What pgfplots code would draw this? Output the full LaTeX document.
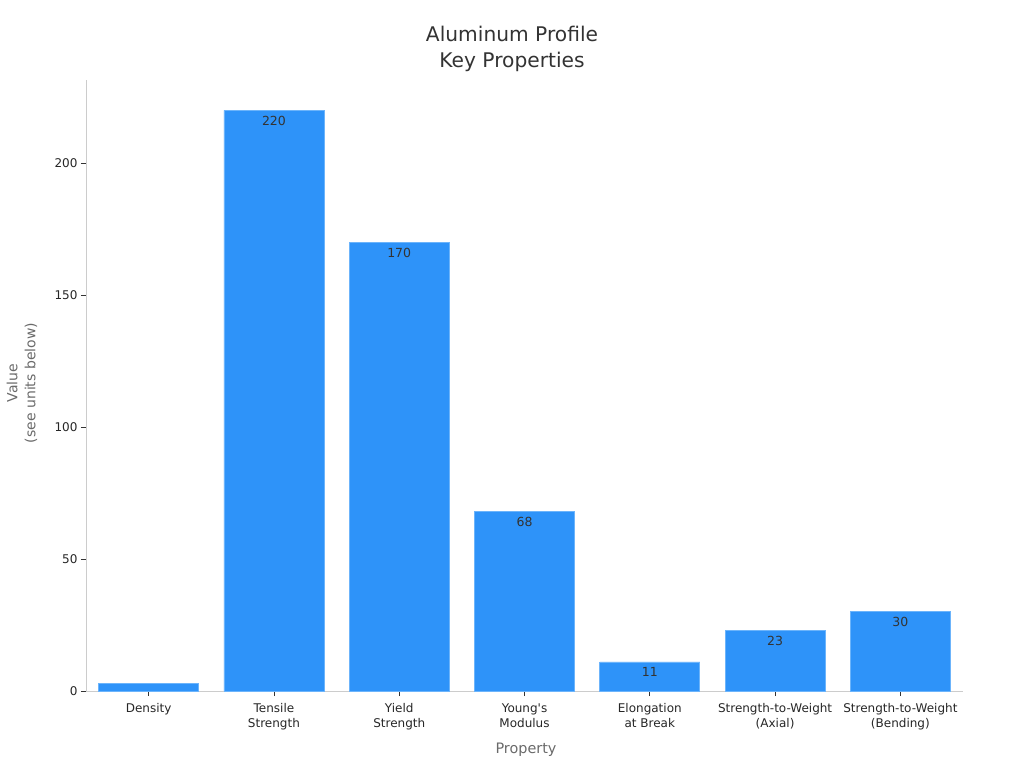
\documentclass[border=0pt]{standalone}
\usepackage{pgfplots}
\pgfplotsset{compat=1.18}
\usepackage{fontspec}
\setmainfont{DejaVu Sans}[Ligatures=TeXOff]
\definecolor{barblue}{HTML}{2E93F9}
\definecolor{baredge}{HTML}{6CB4FB}
\definecolor{spine}{HTML}{CCCCCC}
\definecolor{lab}{HTML}{6A6A6A}
\definecolor{tit}{HTML}{333333}
\begin{document}
\begin{tikzpicture}[x=1pt,y=1pt]
\useasboundingbox (0,0) rectangle (1024,768);
\begin{axis}[at={(86pt,77pt)}, anchor=south west, scale only axis,
  width=877pt, height=611pt,
  xmin=-0.5, xmax=6.5, ymin=0, ymax=231.5,
  axis x line*=bottom, axis y line*=left,
  axis line style={spine, -, line width=0.8pt},
  xtick={0,1,2,3,4,5,6},
  xticklabels={Density, Tensile\\Strength, Yield\\Strength, Young's\\Modulus, Elongation\\at Break, Strength-to-Weight\\(Axial), Strength-to-Weight\\(Bending)},
  ytick={0,50,100,150,200},
  tick align=outside, major tick length=5pt,
  major tick style={black!80, line width=0.6pt},
  ticklabel style={font=\fontsize{12}{15}\selectfont, text=black!85},
  xticklabel style={align=center, yshift=-4pt},
  /pgf/number format/assume math mode=true,
  ybar, bar width=100pt,
]
\addplot[ybar, bar shift=0pt, fill=barblue, draw=baredge, line width=0.8pt] coordinates {(0,2.7)};
\addplot[ybar, bar shift=0pt, fill=barblue, draw=baredge, line width=0.8pt,
  nodes near coords,
  every node near coord/.append style={anchor=north, yshift=-2pt, font=\fontsize{12.5}{14}\selectfont, text=tit}]
  coordinates {(1,220) (2,170) (3,68) (4,11) (5,23) (6,30)};
\end{axis}
\node[align=center, font=\fontsize{20.2}{26}\selectfont, text=tit] at (512,719) {Aluminum Profile\\Key Properties};
\node[align=center, rotate=90, font=\fontsize{14}{18}\selectfont, text=lab] at (22,385) {Value\\(see units below)};
\node[font=\fontsize{14.4}{16}\selectfont, text=lab] at (526,18) {Property};
\end{tikzpicture}
\end{document}
